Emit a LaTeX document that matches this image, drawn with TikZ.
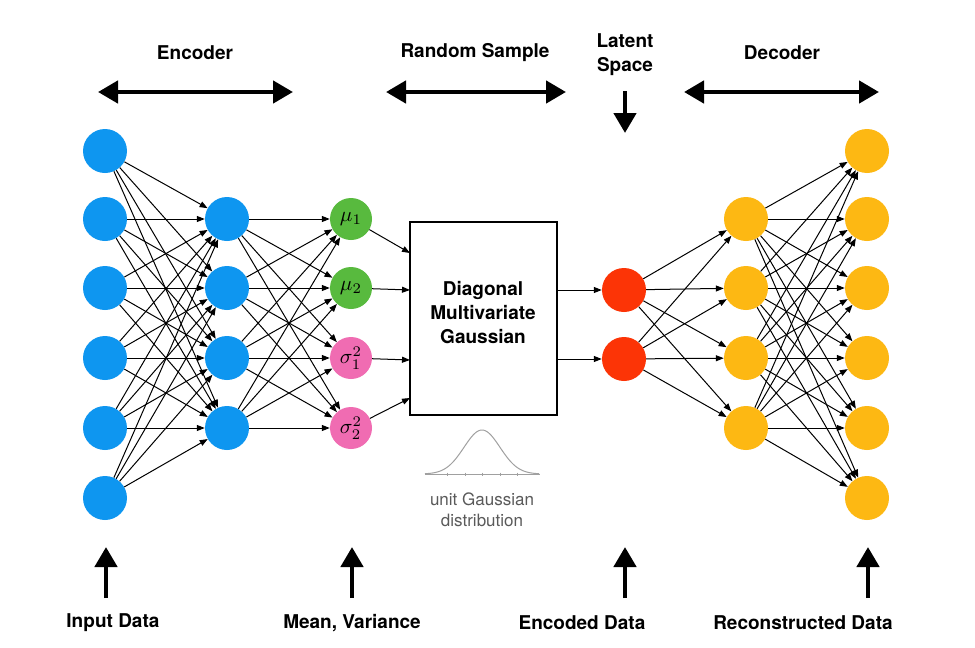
\documentclass[tikz,border=0pt]{standalone}
\usepackage{graphicx}
\usepackage{fontspec}
\setmainfont{TeX Gyre Heros}
\usetikzlibrary{arrows.meta,calc}
\definecolor{nblue}{RGB}{14,150,240}
\definecolor{ngreen}{RGB}{88,186,62}
\definecolor{npink}{RGB}{240,108,178}
\definecolor{nred}{RGB}{252,52,6}
\definecolor{nyellow}{RGB}{253,184,19}
\definecolor{curvegray}{RGB}{160,160,160}
\definecolor{textgray}{RGB}{90,90,90}
\newcommand{\mlab}[1]{\scalebox{2.1}{$#1$}}
\begin{document}
\begin{tikzpicture}[x=1pt,y=-1pt,
  neuron/.style={circle,minimum size=44pt,inner sep=0pt,draw=none},
  smallneuron/.style={circle,minimum size=42pt,inner sep=0pt,draw=none,font=\normalsize},
  conn/.style={-{Triangle[length=8pt,width=6pt]},line width=1pt},
  bigtwo/.style={line width=4.5pt,{Triangle[length=20pt,width=22pt]}-{Triangle[length=20pt,width=22pt]}},
  bigone/.style={line width=4.5pt,-{Triangle[length=20pt,width=22pt]}},
  lbl/.style={font=\bfseries\fontsize{19}{24}\selectfont,align=center,inner sep=0pt}]
\useasboundingbox[fill=white] (0,0) rectangle (975,648);

% input layer
\foreach \y [count=\i] in {151,219,288,358,428,498}
  \node[neuron,fill=nblue] (in\i) at (105,\y) {};
% encoder hidden
\foreach \y [count=\i] in {219,288,358,428}
  \node[neuron,fill=nblue] (h\i) at (227,\y) {};
% mean / variance
\node[smallneuron,fill=ngreen] (m1) at (351,219) {\mlab{\mu_1}};
\node[smallneuron,fill=ngreen] (m2) at (351,288) {\mlab{\mu_2}};
\node[smallneuron,fill=npink] (m3) at (351,358) {\mlab{\sigma_1^2}};
\node[smallneuron,fill=npink] (m4) at (351,428) {\mlab{\sigma_2^2}};
% box
\node[draw,line width=1.5pt,minimum width=147pt,minimum height=193pt,inner sep=0pt] (box) at (483.5,318.5) {};
\node[lbl] (boxtext) at (483,313) {Diagonal\\Multivariate\\Gaussian};
\coordinate (b1) at (410,253);
\coordinate (b2) at (410,290);
\coordinate (b3) at (410,360);
\coordinate (b4) at (410,398);
% latent
\node[neuron,fill=nred] (r1) at (624,290) {};
\node[neuron,fill=nred] (r2) at (624,359) {};
% decoder hidden
\foreach \y [count=\i] in {219,288,358,428}
  \node[neuron,fill=nyellow] (d\i) at (746,\y) {};
% output
\foreach \y [count=\i] in {151,219,288,358,428,498}
  \node[neuron,fill=nyellow] (o\i) at (867,\y) {};

% connections
\foreach \i in {1,...,6} \foreach \j in {1,...,4} \draw[conn] (in\i) -- (h\j);
\foreach \i in {1,...,4} \foreach \j in {1,...,4} \draw[conn] (h\i) -- (m\j);
\foreach \i in {1,...,4} \draw[conn] (m\i) -- (b\i);
\draw[conn] (box.east |- r1) -- (r1);
\draw[conn] (box.east |- r2) -- (r2);
\foreach \i in {1,2} \foreach \j in {1,...,4} \draw[conn] (r\i) -- (d\j);
\foreach \i in {1,...,4} \foreach \j in {1,...,6} \draw[conn] (d\i) -- (o\j);

% unit gaussian
\draw[curvegray,line width=0.8pt] (425,474) -- (540,474);
\foreach \t in {447,465,482,500,517} \draw[curvegray,line width=0.5pt] (\t,472.5) -- (\t,475.5);
\draw[curvegray,line width=1pt] plot[domain=-57:57,samples=80,smooth] ({482+\x},{474-44*exp(-((\x/18)^2)/2)});
\node[font=\fontsize{17}{20.5}\selectfont,text=textgray,align=center,inner sep=0pt] (ugd) at (482,510) {unit Gaussian\\distribution};

% top labels and arrows
\node[lbl] (tenc) at (195,53) {Encoder};
\coordinate (ea) at (98,92); \coordinate (eb) at (293,92);
\draw[bigtwo] (ea) -- (eb);
\node[lbl] (trs) at (475,53) {Random Sample};
\coordinate (ra) at (386,92); \coordinate (rb) at (566,92);
\draw[bigtwo] (ra) -- (rb);
\node[lbl] (tls) at (625,55) {Latent\\Space};
\coordinate (la) at (625,91); \coordinate (lb) at (625,133);
\draw[bigone] (la) -- (lb);
\node[lbl] (tdec) at (782,53) {Decoder};
\coordinate (da) at (684,92); \coordinate (db) at (879,92);
\draw[bigtwo] (da) -- (db);

% bottom arrows and labels
\foreach \n/\x in {ia/106,ma/352,ka/625,ca/868} {
  \coordinate (\n s) at (\x,598); \coordinate (\n e) at (\x,547);
  \draw[bigone] (\n s) -- (\n e);
}
\node[lbl] (bin) at (113,623) {Input Data};
\node[lbl] (bmv) at (352,623) {Mean, Variance};
\node[lbl] (bed) at (582,623) {Encoded Data};
\node[lbl] (brd) at (803,623) {Reconstructed Data};
\end{tikzpicture}
\end{document}
